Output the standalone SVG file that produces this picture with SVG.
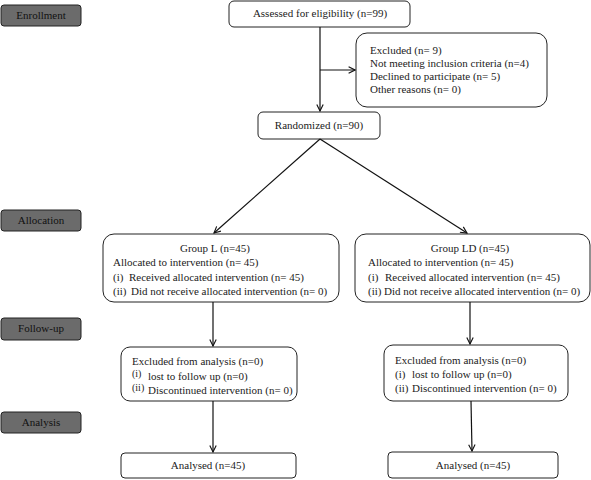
<svg xmlns="http://www.w3.org/2000/svg" width="591" height="480" viewBox="0 0 591 480">
<style>
.lab rect{fill:#6b6b6b;stroke:#222;stroke-width:1}
text{font-family:"Liberation Serif","Times New Roman","DejaVu Serif",serif;font-size:11px}
.lab text{fill:#111;text-anchor:middle}
.box rect{fill:#fff;stroke:#222;stroke-width:1}
.box text{fill:#222}
.c{text-anchor:middle}
.sm{font-size:10px}
.con line{stroke:#111;stroke-width:1.2;fill:none;marker-end:url(#ah)}
</style>
<defs>
<marker id="ah" viewBox="0 0 10 10" refX="9" refY="5" markerWidth="8" markerHeight="8" markerUnits="userSpaceOnUse" orient="auto">
<path d="M1,1 L9,5 L1,9" fill="none" stroke="#111" stroke-width="1.4"/>
</marker>
</defs>
<rect width="591" height="480" fill="#fff"/>
<g id="lab-enrollment" class="lab"><rect x="1" y="5" width="80" height="21" rx="3"/><text x="41" y="19">Enrollment</text></g>
<g id="lab-allocation" class="lab"><rect x="1" y="210" width="80" height="21" rx="3"/><text x="41" y="224">Allocation</text></g>
<g id="lab-followup" class="lab"><rect x="1" y="318" width="80" height="22" rx="3"/><text x="41" y="332">Follow-up</text></g>
<g id="lab-analysis" class="lab"><rect x="1" y="412" width="80" height="21" rx="3"/><text x="41" y="426">Analysis</text></g>

<g id="assessed" class="box"><rect x="229" y="1" width="181" height="26" rx="5"/><text class="c" x="320" y="17">Assessed for eligibility (n=99)</text></g>
<g id="excluded" class="box"><rect x="356" y="33" width="191" height="74" rx="11"/>
<text x="370" y="54">Excluded (n= 9)</text>
<text x="370" y="67">Not meeting inclusion criteria (n=4)</text>
<text x="370" y="80">Declined to participate (n= 5)</text>
<text x="370" y="93">Other reasons (n= 0)</text></g>
<g id="randomized" class="box"><rect x="258" y="112" width="122" height="27" rx="5"/><text class="c" x="319" y="129">Randomized (n=90)</text></g>

<g id="groupL" class="box"><rect x="103" y="234" width="236" height="68" rx="11"/>
<text class="c" x="215" y="252">Group L (n=45)</text>
<text x="113" y="266">Allocated to intervention (n= 45)</text>
<text x="113" y="281">(i)</text><text x="129" y="281">Received allocated intervention (n= 45)</text>
<text x="113" y="295">(ii)</text><text x="131" y="295">Did not receive allocated intervention (n= 0)</text></g>
<g id="groupLD" class="box"><rect x="355" y="234" width="235" height="68" rx="11"/>
<text class="c" x="470" y="252">Group LD (n=45)</text>
<text x="368" y="266">Allocated to intervention (n= 45)</text>
<text x="368" y="281">(i)</text><text x="385" y="281">Received allocated intervention (n= 45)</text>
<text x="368" y="295">(ii)</text><text x="384" y="295">Did not receive allocated intervention (n= 0)</text></g>

<g id="followL" class="box"><rect x="121" y="347" width="176" height="54" rx="9"/>
<text x="132" y="365">Excluded from analysis (n=0)</text>
<text class="sm" x="132" y="377">(i)</text><text x="148" y="380">lost to follow up (n=0)</text>
<text class="sm" x="132" y="391">(ii)</text><text x="148" y="394">Discontinued intervention (n= 0)</text></g>
<g id="followLD" class="box"><rect x="384" y="345" width="184" height="56" rx="9"/>
<text x="395" y="364">Excluded from analysis (n=0)</text>
<text x="395" y="378">(i)</text><text x="412" y="378">lost to follow up (n=0)</text>
<text x="395" y="392">(ii)</text><text x="412" y="392">Discontinued intervention (n= 0)</text></g>

<g id="analysedL" class="box"><rect x="121" y="453" width="175" height="25" rx="4"/><text class="c" x="208" y="469">Analysed (n=45)</text></g>
<g id="analysedLD" class="box"><rect x="388" y="452" width="170" height="26" rx="4"/><text class="c" x="473" y="469">Analysed (n=45)</text></g>

<g id="connectors" class="con">
<line x1="320" y1="27" x2="320" y2="111"/>
<line x1="320" y1="70" x2="355" y2="70"/>
<line x1="320" y1="139" x2="214" y2="233"/>
<line x1="320" y1="139" x2="467" y2="233"/>
<line x1="213" y1="302" x2="213" y2="346"/>
<line x1="470" y1="302" x2="470" y2="344"/>
<line x1="213" y1="401" x2="213" y2="452"/>
<line x1="471" y1="401" x2="472" y2="451"/>
</g>
</svg>
